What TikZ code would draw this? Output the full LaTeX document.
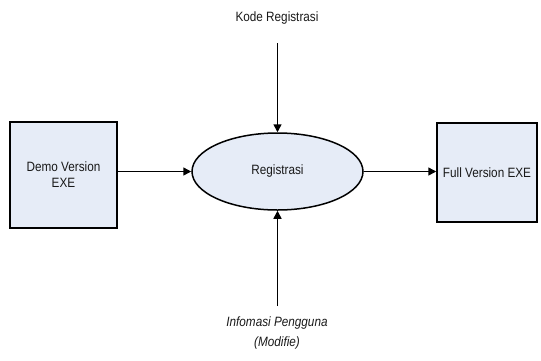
\documentclass[tikz,border=0pt]{standalone}
\usepackage{fontspec}
\setmainfont{Liberation Sans}[FakeStretch=0.87]
\usetikzlibrary{shapes.geometric,arrows.meta}
\definecolor{boxfill}{HTML}{E6ECF7}
\begin{document}
\begin{tikzpicture}[x=1pt,y=-1pt,
  every node/.style={font=\fontsize{13.5}{16}\selectfont, text=black!90},
  procbox/.style={draw=black, line width=1.5pt, fill=boxfill, inner sep=0pt, align=center},
  procell/.style={draw=black, line width=1.5pt, fill=boxfill, ellipse, inner sep=0pt},
  flow/.style={line width=1.5pt, -{Triangle[length=8pt,width=8pt]}},
  lbl/.style={align=center, inner sep=0pt}]
\useasboundingbox (0,0) rectangle (541,360);
\node[procbox, minimum width=107pt, minimum height=106pt] (demo) at (63.5,175) {Demo Version\\EXE};
\node[procell, minimum width=171pt, minimum height=77pt] (reg) at (277.5,171.5) {Registrasi};
\node[procbox, minimum width=100pt, minimum height=99pt] (full) at (487,172.5) {Full Version EXE};
\node[lbl] (kode) at (277,18) {Kode Registrasi};
\coordinate (kodeEnd) at (277.5,43);
\node[lbl, font=\fontsize{13.5}{20}\selectfont\itshape] (info) at (277,333) {Infomasi Pengguna\\(Modifie)};
\coordinate (infoEnd) at (277.5,306);
\draw[flow] (demo.east |- reg.west) -- (reg.west);
\draw[flow] (reg.east) -- (full.west |- reg.east);
\draw[flow] (kodeEnd) -- (reg.north);
\draw[flow] (infoEnd) -- (reg.south);
\end{tikzpicture}
\end{document}
